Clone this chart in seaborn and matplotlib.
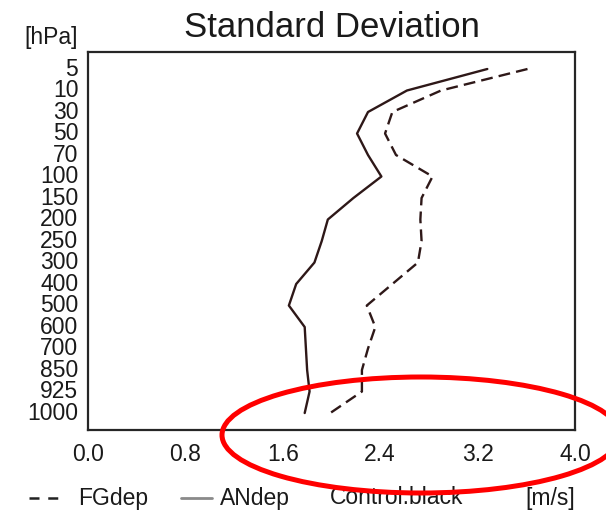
import numpy as np
import pandas as pd
import matplotlib
matplotlib.use("Agg")
import matplotlib.pyplot as plt
from matplotlib.lines import Line2D
from matplotlib.patches import Ellipse
import seaborn as sns

levels = ["5", "10", "30", "50", "70", "100", "150", "200", "250", "300",
          "400", "500", "600", "700", "850", "925", "1000"]
fgdep = [3.61, 2.90, 2.50, 2.44, 2.53, 2.83, 2.74, 2.73, 2.74, 2.71,
         2.50, 2.29, 2.36, 2.30, 2.25, 2.25, 1.99]
andep = [3.28, 2.62, 2.30, 2.21, 2.30, 2.41, 2.18, 1.97, 1.92, 1.86,
         1.71, 1.65, 1.78, 1.79, 1.80, 1.82, 1.78]
xticks = [0.0, 0.8, 1.6, 2.4, 3.2, 4.0]

sns.set_theme(style="white")
plt.rcParams['font.family'] = ['Liberation Sans', 'DejaVu Sans']

idx = np.arange(len(levels))
df = pd.DataFrame({"level": idx, "FGdep": fgdep, "ANdep": andep})

fig = plt.figure(figsize=(6.06, 5.15), dpi=100)
ax = fig.add_axes([0.1452, 0.165, 0.9488 - 0.1452, 0.899 - 0.165])

line_col = "#2e1818"
sns.lineplot(data=df, x="FGdep", y="level", orient="y", ax=ax,
             color=line_col, linewidth=1.7)
ax.lines[-1].set_dashes((5, 2.6))
sns.lineplot(data=df, x="ANdep", y="level", orient="y", ax=ax,
             color=line_col, linewidth=1.7)

ax.set_xlim(0, 4.0)
ax.set_ylim(len(levels) - 1 + 0.79, -0.79)
ax.set_xticks(xticks)
ax.set_xticklabels([f"{v:.1f}" for v in xticks])
ax.set_yticks(idx)
ax.set_yticklabels(levels)
ax.set_xlabel("")
ax.set_ylabel("")

for s in ax.spines.values():
    s.set_visible(True)
    s.set_color("#262626")
    s.set_linewidth(1.6)

ax.tick_params(axis="both", direction="in", colors="#262626",
               labelcolor="#1a1a1a", labelsize=16.5, width=1.3)
ax.tick_params(axis="y", length=11, pad=7)
ax.tick_params(axis="x", length=10, pad=9)
for lab in ax.get_yticklabels():
    lab.set_verticalalignment("center")

ax.set_title("Standard Deviation", fontsize=25, color="#1a1a1a", pad=11)

fig.text(0.129, 0.915, "[hPa]", ha="right", va="baseline", fontsize=16.5,
         color="#1a1a1a")

# legend line at bottom
ly = 1 - 498 / 515
fig.add_artist(Line2D([29 / 606, 64 / 606], [ly, ly], color="#222222",
                      linewidth=1.8, dashes=(4, 3.5)))
fig.text(78 / 606, ly, "FGdep", ha="left", va="center", fontsize=16.5,
         color="#1a1a1a")
fig.add_artist(Line2D([181 / 606, 212 / 606], [ly, ly], color="#8a8a8a",
                      linewidth=2.0))
fig.text(220 / 606, ly, "ANdep", ha="left", va="center", fontsize=16.5,
         color="#1a1a1a")
fig.text(330 / 606, ly, "Control.black", ha="left", va="center",
         fontsize=16.5, color="#1a1a1a")
fig.text(575 / 606, ly, "[m/s]", ha="right", va="center", fontsize=16.5,
         color="#1a1a1a")

# red highlight ellipse annotation
ell = Ellipse((421 / 606, 1 - 435 / 515), 398 / 606, 116 / 515,
              transform=fig.transFigure, fill=False, edgecolor="#ff0000",
              linewidth=3.6, zorder=10)
fig.add_artist(ell)

fig.savefig("out.png", dpi=100)
